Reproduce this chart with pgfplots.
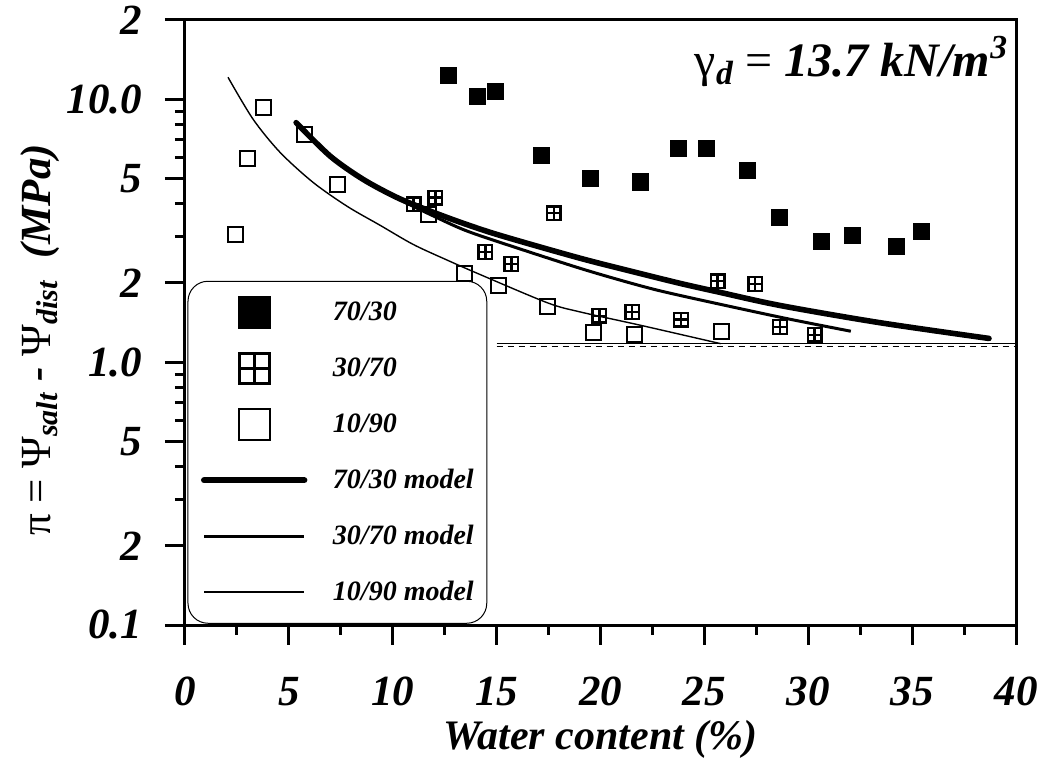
\documentclass[border=0pt]{standalone}
\usepackage{fontspec}
\setmainfont{Liberation Serif}
\usepackage{pgfplots}
\pgfplotsset{compat=1.18}

% square with a cross inside
\pgfdeclareplotmark{boxplus}{%
  \pgfpathrectangle{\pgfqpoint{-\pgfplotmarksize}{-\pgfplotmarksize}}{\pgfqpoint{2\pgfplotmarksize}{2\pgfplotmarksize}}%
  \pgfpathmoveto{\pgfqpoint{-\pgfplotmarksize}{0pt}}%
  \pgfpathlineto{\pgfqpoint{\pgfplotmarksize}{0pt}}%
  \pgfpathmoveto{\pgfqpoint{0pt}{-\pgfplotmarksize}}%
  \pgfpathlineto{\pgfqpoint{0pt}{\pgfplotmarksize}}%
  \pgfusepathqstroke}

\begin{document}
\begin{tikzpicture}
\useasboundingbox (0,0) rectangle (521.5pt,380pt);
\begin{axis}[
  at={(92.5pt,67.5pt)}, anchor=south west,
  scale only axis, width=415.5pt, height=302.5pt,
  xmin=0, xmax=40, ymode=log, ymin=0.1, ymax=20,
  xtick={0,5,...,40}, minor x tick num=1,
  ytick={0.1,0.2,0.5,1,2,5,10,20},
  yticklabels={0.1,2,5,1.0,2,5,10.0,2},
  minor ytick={0.3,0.4,0.6,0.7,0.8,0.9,3,4,6,7,8,9},
  xtick pos=left, ytick pos=left, tick align=outside,
  major tick length=10pt, minor tick length=5pt,
  tick style={line width=1.5pt, black},
  axis line style={line width=1.5pt},
  /pgf/number format/assume math mode=true,
  ticklabel style={font=\bfseries\itshape\fontsize{21.5}{24}\selectfont},
  xticklabel style={anchor=base, yshift=-30.5pt, text depth=0pt},
  yticklabel style={anchor=east, xshift=-8pt},
  xlabel={Water content (\%)},
  xlabel style={at={(axis description cs:0.5,-0.206)}, anchor=base,
    font=\bfseries\itshape\fontsize{21}{24}\selectfont},
  ylabel={{\upshape\mdseries π = Ψ}\textsubscript{salt} - {\upshape\mdseries Ψ}\textsubscript{dist}\ \ (MPa)},
  ylabel style={at={(axis description cs:-0.174,0.471)}, anchor=center,
    font=\bfseries\itshape\fontsize{21.5}{24}\selectfont},
  legend style={at={(axis description cs:0.003,0.569)}, anchor=north west,
    draw=black, line width=0.5pt, rounded corners=10pt, fill=white,
    inner xsep=6.5pt, inner ysep=1.5pt, row sep=0pt, column sep=12.8pt,
    font=\bfseries\itshape\fontsize{14}{16}\selectfont,
    nodes={inner sep=0pt, minimum height=28pt}},
  legend cell align=left,
]

% reference lines
\addplot[forget plot, black, line width=0.6pt] coordinates {(15,1.175) (40,1.175)};
\addplot[forget plot, black, line width=0.6pt, dash pattern=on 3pt off 2.5pt] coordinates {(15,1.148) (40,1.148)};

% 70/30 measured
\addplot[only marks, mark=square*, mark size=4pt,
  mark options={draw=black, fill=black, line width=0.5pt},
  legend image code/.code={\path[draw=none] (0pt,0pt) -- (50pt,0pt);
    \path[sharp corners, draw=none, only marks, mark=square*, mark size=8pt,
      mark options={draw=black, fill=black, line width=0.5pt}] plot coordinates {(25pt,0pt)};}]
  coordinates {(12.69,12.25) (14.06,10.19) (14.94,10.73) (17.14,6.11) (19.52,4.98)
  (21.93,4.84) (23.74,6.48) (25.08,6.48) (27.07,5.34) (28.63,3.56) (30.64,2.87)
  (32.11,3.03) (34.27,2.74) (35.45,3.13)};

% 30/70 measured
\addplot[only marks, mark=boxplus, mark size=3.4pt,
  mark options={draw=black, line width=1.2pt},
  legend image code/.code={\path[draw=none] (0pt,0pt) -- (50pt,0pt);
    \path[sharp corners, draw=none, only marks, mark=boxplus, mark size=7.5pt,
      mark options={draw=black, line width=1.6pt}] plot coordinates {(25pt,0pt)};}]
  coordinates {(11.0,3.98) (12.05,4.22) (14.46,2.62) (15.71,2.36) (17.75,3.68)
  (19.95,1.50) (21.53,1.55) (23.87,1.45) (25.64,2.03) (27.45,1.98) (28.64,1.36)
  (30.31,1.27)};

% 10/90 measured
\addplot[only marks, mark=square, mark size=3.75pt,
  mark options={draw=black, line width=1pt},
  legend image code/.code={\path[draw=none] (0pt,0pt) -- (50pt,0pt);
    \path[sharp corners, draw=none, only marks, mark=square, mark size=7.75pt,
      mark options={draw=black, line width=1pt}] plot coordinates {(25pt,0pt)};}]
  coordinates {(2.41,3.06) (3.0,5.95) (3.77,9.28) (5.73,7.32) (7.34,4.73)
  (11.73,3.64) (13.46,2.18) (15.1,1.95) (17.43,1.62) (19.65,1.29) (21.62,1.27)
  (25.82,1.31)};

% 70/30 model
\addplot[black, line width=2.8pt, line cap=round, smooth, no marks,
  legend image code/.code={\draw[line width=3.2pt, line cap=round] (0pt,0pt) -- (50pt,0pt);}]
  coordinates {(5.35,8.14) (6.99,6.07) (8.58,4.95) (10.22,4.22) (11.81,3.75)
  (13.4,3.37) (15.18,3.03) (19.04,2.48) (21.93,2.17) (23.86,1.99)
  (25.64,1.85) (28.67,1.64) (33.49,1.41) (38.70,1.23)};

% 30/70 model
\addplot[black, line width=1.5pt, smooth, no marks,
  legend image code/.code={\draw[line width=1.6pt] (0pt,0pt) -- (50pt,0pt);}]
  coordinates {(5.35,8.14) (6.99,6.07) (8.58,4.95) (10.22,4.19) (11.81,3.64)
  (13.4,3.19) (15.18,2.85) (19.04,2.27) (21.93,1.95) (23.86,1.79) (28.67,1.48)
  (32.05,1.31)};

% 10/90 model
\addplot[black, line width=0.7pt, smooth, no marks,
  legend image code/.code={\draw[line width=0.8pt] (0pt,0pt) -- (50pt,0pt);}]
  coordinates {(2.07,12.11) (3.28,8.38) (4.58,6.27) (6.17,4.82) (7.81,3.91)
  (9.40,3.31) (10.99,2.80) (12.63,2.44) (14.22,2.15) (17.45,1.68) (19.04,1.55)
  (21.93,1.38) (25.78,1.175)};

\legend{70/30, 30/70, 10/90, 70/30 model, 30/70 model, 10/90 model}

\node[anchor=base east, font=\bfseries\itshape\fontsize{24}{28}\selectfont]
  at (axis description cs:0.999,0.906)
  {{\upshape\mdseries γ}\textsubscript{d} {\upshape\mdseries =} 13.7 kN/m\textsuperscript{3}};
\end{axis}
\end{tikzpicture}
\end{document}
